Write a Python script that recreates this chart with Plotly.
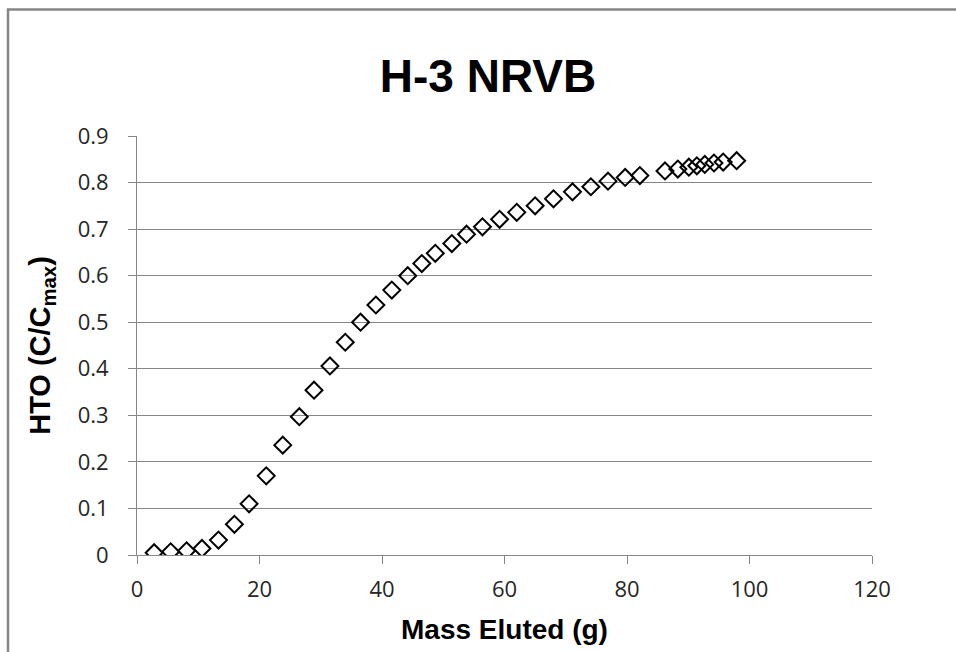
import plotly.graph_objects as go

mass_eluted = [2.8, 5.5, 8.1, 10.6, 13.3, 15.9, 18.3, 21.1, 23.8, 26.5, 28.9,
               31.5, 34.0, 36.5, 39.0, 41.6, 44.2, 46.5, 48.7, 51.4, 53.8,
               56.4, 59.2, 62.0, 65.0, 68.0, 71.1, 74.1, 76.9, 79.7, 82.1,
               86.2, 88.3, 90.1, 91.4, 92.7, 94.2, 95.7, 97.9]
hto = [0.005, 0.007, 0.009, 0.014, 0.032, 0.066, 0.110, 0.170, 0.236, 0.297,
       0.354, 0.406, 0.457, 0.500, 0.537, 0.569, 0.600, 0.626, 0.648, 0.669,
       0.689, 0.705, 0.721, 0.736, 0.750, 0.765, 0.780, 0.791, 0.803, 0.811,
       0.815, 0.825, 0.829, 0.833, 0.836, 0.839, 0.842, 0.844, 0.847]

x_ticks = [0, 20, 40, 60, 80, 100, 120]
y_ticks = [0, 0.1, 0.2, 0.3, 0.4, 0.5, 0.6, 0.7, 0.8, 0.9]
y_tick_text = ["0", "0.1", "0.2", "0.3", "0.4", "0.5", "0.6", "0.7", "0.8", "0.9"]

fig = go.Figure()
fig.add_trace(go.Scatter(
    x=mass_eluted, y=hto, mode="markers",
    marker=dict(symbol="diamond-open", size=13, color="black",
                line=dict(color="black", width=2)),
    showlegend=False,
))

tick_font = dict(family="Open Sans, Liberation Sans, sans-serif", size=22, color="#262626")
title_font_family = "Liberation Sans, Arial, sans-serif"

fig.update_layout(
    width=956, height=652,
    margin=dict(l=137, r=84, t=136, b=97),
    paper_bgcolor="white", plot_bgcolor="white",
    title=dict(text="<b>H-3 NRVB</b>", x=488/956, xref="container", xanchor="center",
               y=1 - 76/652, yanchor="middle",
               font=dict(family=title_font_family, size=46, color="black")),
    xaxis=dict(range=[0, 120], tickvals=x_ticks, ticks="outside", ticklen=8,
               tickcolor="#868686", showline=True, linecolor="#868686", linewidth=1,
               showgrid=False, zeroline=False, tickfont=tick_font, ticklabelstandoff=7,
               title=dict(text="<b>Mass Eluted (g)</b>", standoff=16,
                          font=dict(family=title_font_family, size=28, color="black"))),
    yaxis=dict(range=[0, 0.9], tickvals=y_ticks, ticktext=y_tick_text, ticks="outside", ticklen=8,
               tickcolor="#868686", showline=True, linecolor="#868686", linewidth=1,
               showgrid=True, gridcolor="#868686", gridwidth=1, zeroline=False,
               tickfont=tick_font, ticklabelstandoff=15,
               title=dict(text="<b>HTO (C/C<sub>max</sub>)</b>", standoff=18,
                          font=dict(family=title_font_family, size=29, color="black"))),
)

fig.add_shape(type="rect", xref="paper", yref="paper",
              x0=(8 - 137) / 735, x1=1.2, y0=-0.4, y1=(555 - 9.5) / 419,
              line=dict(color="#868686", width=2.5), fillcolor="rgba(0,0,0,0)", layer="below")

fig.write_html("out.html")
